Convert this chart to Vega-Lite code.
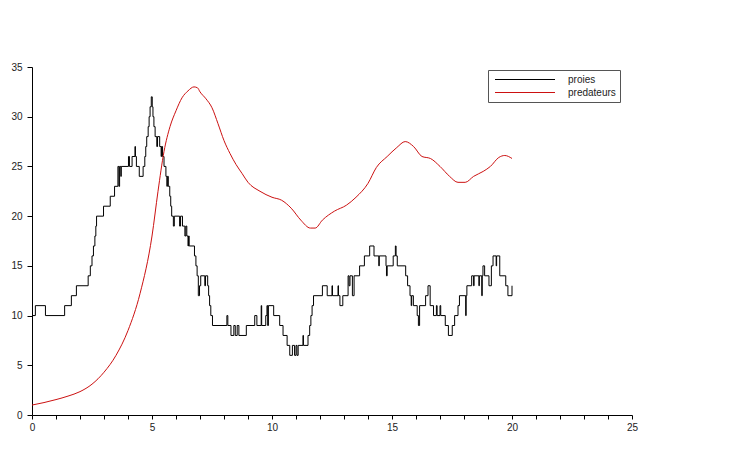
{
  "$schema": "https://vega.github.io/schema/vega-lite/v6.json",
  "width": 600,
  "height": 348,
  "autosize": {"type": "none"},
  "padding": {"left": 32, "top": 67, "right": 98, "bottom": 55},
  "background": "white",
  "config": {
    "view": {"stroke": null},
    "axis": {"grid": false, "domainColor": "black", "tickColor": "black", "labelFont": "Liberation Sans", "labelFontSize": 10, "labelColor": "#222", "title": null}
  },
  "datasets": {
    "proies": [
      {"t":0,"n":10},{"t":0.14,"n":11},{"t":0.56,"n":10},{"t":1.36,"n":11},{"t":1.64,"n":12},{"t":1.85,"n":13},{"t":2.34,"n":14},{"t":2.43,"n":15},{"t":2.5,"n":16},{"t":2.56,"n":17},{"t":2.62,"n":18},{"t":2.66,"n":19},{"t":2.69,"n":20},{"t":2.98,"n":21},{"t":3.26,"n":22},{"t":3.44,"n":23},{"t":3.58,"n":25},{"t":3.62,"n":23},{"t":3.65,"n":25},{"t":3.7,"n":24},{"t":3.72,"n":25},{"t":4.02,"n":26},{"t":4.06,"n":25},{"t":4.17,"n":26},{"t":4.29,"n":27},{"t":4.31,"n":26},{"t":4.35,"n":25},{"t":4.47,"n":24},{"t":4.63,"n":25},{"t":4.7,"n":26},{"t":4.74,"n":27},{"t":4.78,"n":28},{"t":4.84,"n":29},{"t":4.88,"n":30},{"t":4.92,"n":31},{"t":4.97,"n":32},{"t":5.01,"n":31},{"t":5.04,"n":30},{"t":5.08,"n":29},{"t":5.13,"n":28},{"t":5.2,"n":27},{"t":5.23,"n":28},{"t":5.32,"n":27},{"t":5.38,"n":26},{"t":5.4,"n":27},{"t":5.44,"n":26},{"t":5.5,"n":25},{"t":5.58,"n":24},{"t":5.62,"n":23},{"t":5.64,"n":24},{"t":5.68,"n":23},{"t":5.74,"n":22},{"t":5.78,"n":21},{"t":5.82,"n":20},{"t":5.89,"n":19},{"t":5.93,"n":20},{"t":6.15,"n":19},{"t":6.19,"n":20},{"t":6.27,"n":19},{"t":6.37,"n":18},{"t":6.41,"n":19},{"t":6.45,"n":18},{"t":6.5,"n":17},{"t":6.52,"n":18},{"t":6.55,"n":17},{"t":6.77,"n":16},{"t":6.83,"n":15},{"t":6.88,"n":14},{"t":6.93,"n":12},{"t":6.98,"n":13},{"t":7.03,"n":14},{"t":7.2,"n":13},{"t":7.23,"n":14},{"t":7.32,"n":13},{"t":7.36,"n":12},{"t":7.4,"n":11},{"t":7.45,"n":10},{"t":7.52,"n":9},{"t":8.12,"n":10},{"t":8.16,"n":9},{"t":8.29,"n":8},{"t":8.41,"n":9},{"t":8.47,"n":8},{"t":8.55,"n":9},{"t":8.62,"n":8},{"t":8.93,"n":9},{"t":9.28,"n":10},{"t":9.37,"n":9},{"t":9.55,"n":11},{"t":9.57,"n":9},{"t":9.74,"n":10},{"t":9.79,"n":11},{"t":9.82,"n":9},{"t":9.85,"n":11},{"t":10.07,"n":10},{"t":10.32,"n":9},{"t":10.46,"n":8},{"t":10.63,"n":7},{"t":10.74,"n":6},{"t":10.85,"n":7},{"t":10.94,"n":6},{"t":11,"n":7},{"t":11.04,"n":6},{"t":11.09,"n":7},{"t":11.29,"n":8},{"t":11.31,"n":7},{"t":11.5,"n":8},{"t":11.57,"n":9},{"t":11.62,"n":10},{"t":11.67,"n":11},{"t":11.73,"n":12},{"t":12.1,"n":13},{"t":12.3,"n":12},{"t":12.5,"n":13},{"t":12.52,"n":12},{"t":12.75,"n":13},{"t":12.77,"n":12},{"t":12.83,"n":11},{"t":12.95,"n":12},{"t":13.17,"n":14},{"t":13.21,"n":13},{"t":13.25,"n":14},{"t":13.35,"n":12},{"t":13.42,"n":14},{"t":13.65,"n":15},{"t":13.85,"n":16},{"t":14.07,"n":17},{"t":14.25,"n":16},{"t":14.45,"n":15},{"t":14.47,"n":16},{"t":14.75,"n":15},{"t":14.77,"n":14},{"t":14.8,"n":15},{"t":15.05,"n":16},{"t":15.14,"n":17},{"t":15.17,"n":16},{"t":15.22,"n":15},{"t":15.57,"n":14},{"t":15.65,"n":13},{"t":15.75,"n":12},{"t":15.8,"n":11},{"t":15.82,"n":12},{"t":15.89,"n":11},{"t":16.05,"n":10},{"t":16.1,"n":9},{"t":16.15,"n":11},{"t":16.4,"n":12},{"t":16.5,"n":13},{"t":16.59,"n":11},{"t":16.73,"n":10},{"t":16.85,"n":11},{"t":16.88,"n":10},{"t":17,"n":11},{"t":17.03,"n":10},{"t":17.22,"n":9},{"t":17.35,"n":8},{"t":17.51,"n":9},{"t":17.61,"n":10},{"t":17.75,"n":11},{"t":17.81,"n":12},{"t":18.07,"n":10},{"t":18.09,"n":12},{"t":18.12,"n":13},{"t":18.32,"n":14},{"t":18.4,"n":13},{"t":18.42,"n":14},{"t":18.62,"n":13},{"t":18.64,"n":14},{"t":18.74,"n":12},{"t":18.76,"n":14},{"t":18.79,"n":15},{"t":18.86,"n":14},{"t":19.04,"n":13},{"t":19.14,"n":15},{"t":19.21,"n":16},{"t":19.34,"n":15},{"t":19.36,"n":16},{"t":19.49,"n":14},{"t":19.74,"n":13},{"t":19.83,"n":12},{"t":20,"n":13}
    ],
    "predateurs": [
      {"t":0,"n":1.0},{"t":0.5,"n":1.25},{"t":1,"n":1.55},{"t":1.5,"n":1.9},{"t":2,"n":2.35},{"t":2.5,"n":3.1},{"t":3,"n":4.3},{"t":3.5,"n":6.0},{"t":4,"n":8.5},{"t":4.5,"n":12.2},{"t":5,"n":18.0},{"t":5.25,"n":22.5},{"t":5.5,"n":26.5},{"t":5.75,"n":29.0},{"t":6,"n":30.6},{"t":6.25,"n":31.9},{"t":6.5,"n":32.6},{"t":6.75,"n":33.0},{"t":6.9,"n":32.9},{"t":7,"n":32.5},{"t":7.25,"n":31.8},{"t":7.5,"n":30.9},{"t":7.75,"n":29.3},{"t":8,"n":27.6},{"t":8.25,"n":26.3},{"t":8.5,"n":25.2},{"t":8.75,"n":24.3},{"t":9,"n":23.4},{"t":9.5,"n":22.5},{"t":10,"n":21.9},{"t":10.4,"n":21.6},{"t":10.8,"n":20.8},{"t":11.2,"n":19.6},{"t":11.6,"n":18.8},{"t":11.8,"n":18.8},{"t":12.1,"n":19.6},{"t":12.6,"n":20.5},{"t":13.1,"n":21.1},{"t":13.5,"n":21.9},{"t":14,"n":23.3},{"t":14.35,"n":24.9},{"t":14.8,"n":26.0},{"t":15.2,"n":26.9},{"t":15.55,"n":27.5},{"t":15.9,"n":27.0},{"t":16.25,"n":26.0},{"t":16.6,"n":25.8},{"t":17,"n":25.0},{"t":17.4,"n":24.0},{"t":17.75,"n":23.4},{"t":18.05,"n":23.4},{"t":18.4,"n":24.0},{"t":18.8,"n":24.5},{"t":19.1,"n":25.0},{"t":19.45,"n":25.9},{"t":19.7,"n":26.1},{"t":20,"n":25.8}
    ]
  },
  "encoding": {
    "x": {"field": "t", "type": "quantitative", "scale": {"domain": [0, 25], "nice": false, "zero": false},
      "axis": {"values": [0,1,2,3,4,5,6,7,8,9,10,11,12,13,14,15,16,17,18,19,20,21,22,23,24,25], "labelExpr": "datum.value % 5 == 0 ? datum.label : ''", "tickSize": 4, "labelPadding": 3, "labelFlush": false, "labelOverlap": false}},
    "y": {"field": "n", "type": "quantitative", "scale": {"domain": [0, 35], "nice": false},
      "axis": {"values": [0,5,10,15,20,25,30,35], "tickSize": 5, "labelPadding": 5}},
    "color": {"field": "serie", "type": "nominal",
      "scale": {"domain": ["proies", "predateurs"], "range": ["black", "#cc1111"]},
      "legend": {"orient": "none", "legendX": 456, "legendY": 3, "title": null, "symbolType": "M-6,0H6", "symbolSize": 100, "symbolOffset": 27.5, "symbolStrokeWidth": 1, "labelFont": "Liberation Sans", "labelFontSize": 10, "labelColor": "#222", "labelOffset": 37.5, "strokeColor": "#555", "fillColor": "white", "padding": 4, "rowPadding": 2}}
  },
  "layer": [
    {
      "data": {"name": "proies"},
      "transform": [{"calculate": "'proies'", "as": "serie"}],
      "mark": {"type": "line", "interpolate": "step-after", "strokeWidth": 1}
    },
    {
      "data": {"name": "predateurs"},
      "transform": [{"calculate": "'predateurs'", "as": "serie"}],
      "mark": {"type": "line", "interpolate": "monotone", "strokeWidth": 1}
    }
  ]
}
